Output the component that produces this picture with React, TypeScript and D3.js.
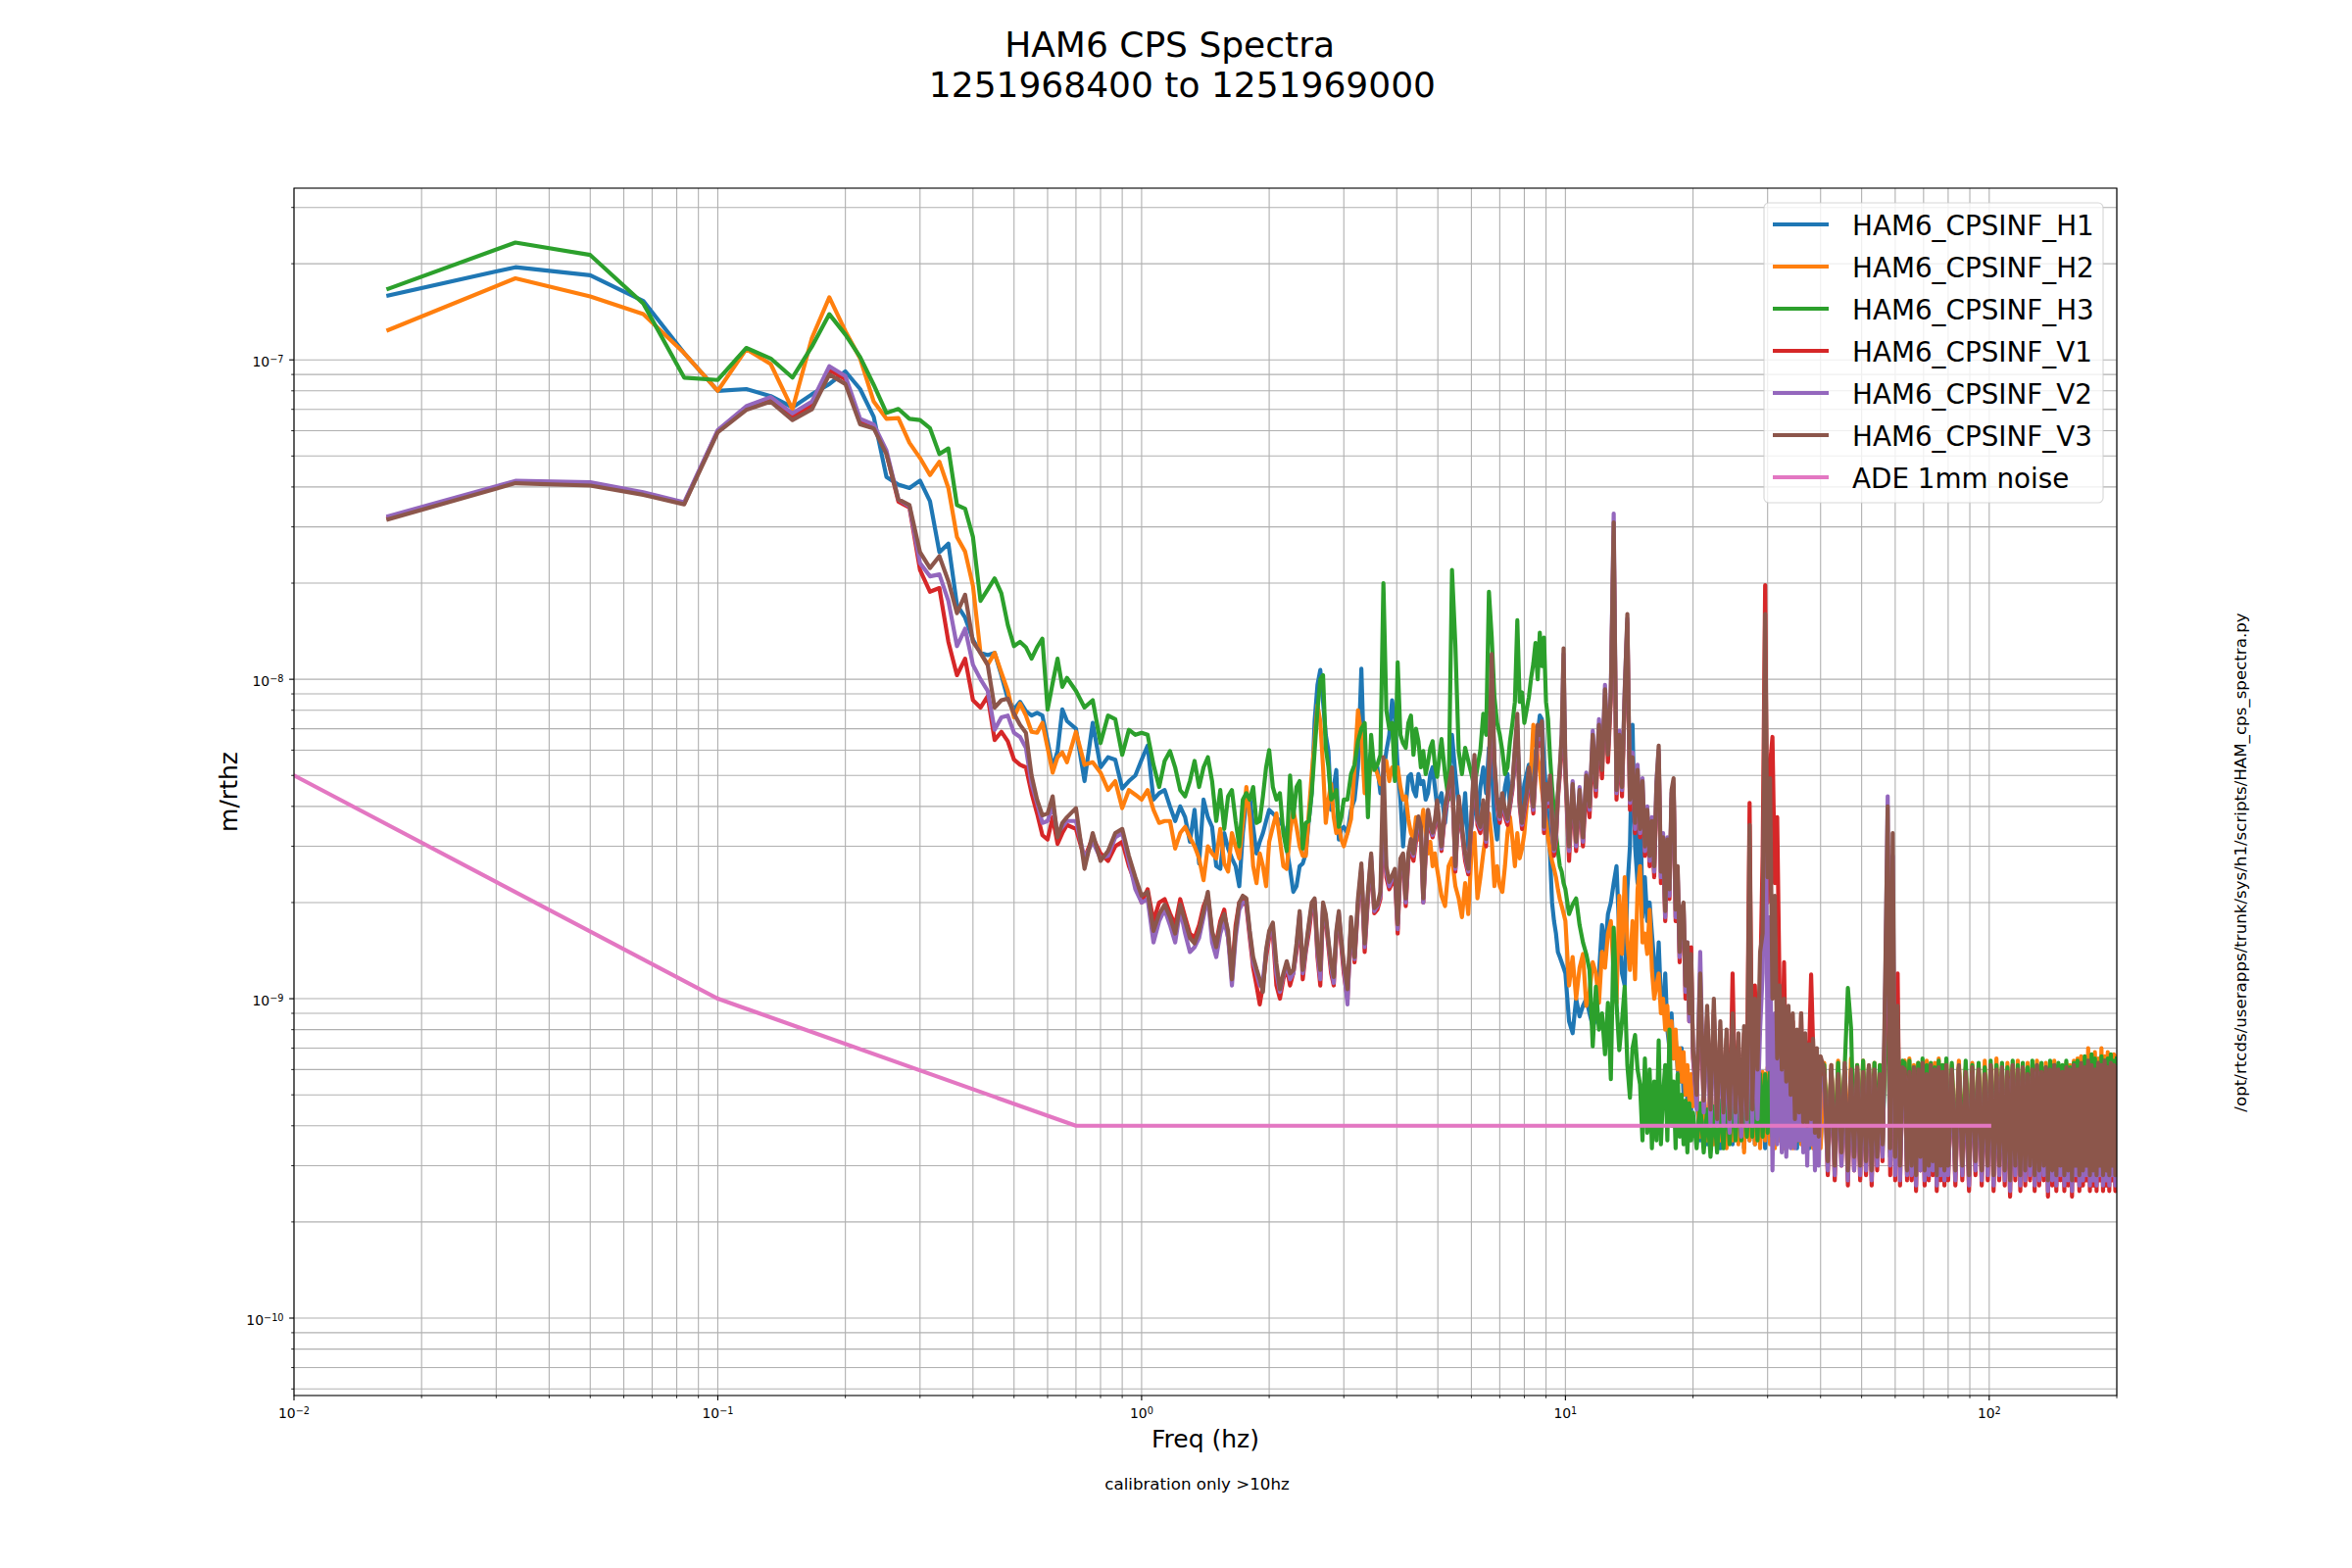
import React from 'react';
import * as d3 from 'd3';

const FONT = "'DejaVu Sans', sans-serif";

// frequency bins (Hz)
const freqLow = [
  0.0167, 0.0333, 0.05, 0.0667, 0.0833, 0.1, 0.1167, 0.1333, 0.15, 0.1667,
  0.1833, 0.2, 0.2167, 0.2333, 0.25, 0.2667, 0.2833, 0.3, 0.3167, 0.3333,
  0.35, 0.3667, 0.3833, 0.4, 0.4167, 0.4333, 0.45, 0.4667, 0.4833, 0.5,
  0.5167, 0.5333, 0.55, 0.5667, 0.5833, 0.6, 0.6167, 0.6333, 0.65, 0.6667,
];
const freqMid = [
  0.7, 0.7333, 0.7667, 0.8, 0.8333, 0.8667, 0.9, 0.9333, 0.9667, 1.0,
  1.0333, 1.0667, 1.1, 1.1333, 1.1667, 1.2, 1.2333, 1.2667, 1.3, 1.3333,
  1.3667, 1.4, 1.4333, 1.4667, 1.5, 1.5333, 1.5667, 1.6, 1.6333, 1.6667,
  1.7, 1.7333, 1.7667, 1.8, 1.8333, 1.8667, 1.9, 1.9333, 1.9667, 2.0,
];
const freqHigh = [
  2.04, 2.08, 2.12, 2.16, 2.2, 2.24, 2.28, 2.32, 2.36, 2.4,
  2.44, 2.48, 2.52, 2.56, 2.6, 2.64, 2.68, 2.72, 2.76, 2.8,
  2.84, 2.88, 2.92, 2.96, 3.0,
  3.06, 3.12, 3.18, 3.24, 3.3, 3.36, 3.42, 3.48, 3.54, 3.6,
  3.66, 3.72, 3.78, 3.84, 3.9, 3.96, 4.02, 4.08, 4.14, 4.2,
  4.26, 4.32, 4.38, 4.44, 4.5, 4.56, 4.62, 4.68, 4.74, 4.8,
  4.86, 4.92, 4.98,
  5.1, 5.2, 5.3, 5.4, 5.5, 5.6, 5.7, 5.8, 5.9, 6.0,
  6.1, 6.2, 6.3, 6.4, 6.5, 6.6, 6.7, 6.8, 6.9, 7.0,
  7.1, 7.2, 7.3, 7.4, 7.5, 7.6, 7.7, 7.8, 7.9, 8.0,
  8.1, 8.2, 8.3, 8.4, 8.5, 8.6, 8.7, 8.8, 8.9, 9.0,
  9.1, 9.2, 9.3, 9.4, 9.5, 9.6, 9.7, 9.8, 9.9, 10.0,
];
const freq10 = [
  10.2, 10.4, 10.6, 10.8, 11, 11.2, 11.4, 11.6, 11.8, 12,
  12.2, 12.4, 12.6, 12.8, 13, 13.2, 13.4, 13.6, 13.8, 14,
  14.2, 14.4, 14.6, 14.8, 15, 15.2, 15.4, 15.6, 15.8, 16,
  16.2, 16.4, 16.6, 16.8, 17, 17.2, 17.4, 17.6, 17.8, 18,
  18.2, 18.4, 18.6, 18.8, 19, 19.2, 19.4, 19.6, 19.8, 20,
];
const freq20 = [
  20.4, 20.8, 21.2, 21.6, 22, 22.4, 22.8, 23.2, 23.6, 24,
  24.4, 24.8, 25.2, 25.6, 26, 26.4, 26.8, 27.2, 27.6, 28,
  28.4, 28.8, 29.2, 29.6, 30, 30.4, 30.8, 31.2, 31.6, 32,
  32.4, 32.8, 33.2, 33.6, 34, 34.4, 34.8, 35.2, 35.6, 36,
  36.4, 36.8, 37.2, 37.6, 38, 38.4, 38.8, 39.2, 39.6, 40,
];
const freq40 = [
  40.8, 41.6, 42.4, 43.2, 44, 44.8, 45.6, 46.4, 47.2, 48,
  48.8, 49.6, 50.4, 51.2, 52, 52.8, 53.6, 54.4, 55.2, 56,
  56.8, 57.6, 58.4, 59.2, 60, 60.8, 61.6, 62.4, 63.2, 64,
  64.8, 65.6, 66.4, 67.2, 68, 68.8, 69.6, 70.4, 71.2, 72,
  72.8, 73.6, 74.4, 75.2, 76, 76.8, 77.6, 78.4, 79.2, 80,
];
const freq80 = [
  81.6, 83.2, 84.8, 86.4, 88, 89.6, 91.2, 92.8, 94.4, 96,
  97.6, 99.2, 100.8, 102.4, 104, 105.6, 107.2, 108.8, 110.4, 112,
  113.6, 115.2, 116.8, 118.4, 120, 121.6, 123.2, 124.8, 126.4, 128,
  129.6, 131.2, 132.8, 134.4, 136, 137.6, 139.2, 140.8, 142.4, 144,
  145.6, 147.2, 148.8, 150.4, 152, 153.6, 155.2, 156.8, 158.4, 160,
  161.6, 163.2, 164.8, 166.4, 168, 169.6, 171.2, 172.8, 174.4, 176,
  177.6, 179.2, 180.8, 182.4, 184, 185.6, 187.2, 188.8, 190.4, 192,
  193.6, 195.2, 196.8, 198.4, 200,
];
const freq = [...freqLow, ...freqMid, ...freqHigh, ...freq10, ...freq20, ...freq40, ...freq80];

// amplitude spectra, nm/rtHz
const cpsH1 = [
  159, 195, 184, 153, 105, 80, 81, 77, 71, 78,
  84, 92, 81, 66.3, 43, 40.7, 39.7, 41.9, 36.1, 25,
  26.6, 17.1, 15.6, 13.3, 12.1, 11.9, 12.1, 10.3, 8.7, 8.05,
  8.5, 7.95, 7.7, 7.85, 7.7, 6.4, 5.3, 5.95, 8.05, 7.4,
  7.0, 4.8, 7.3, 5.3, 5.7, 5.6, 4.55, 4.8, 5.0, 5.6,
  6.2, 4.2, 4.4, 4.5, 4.0, 3.6, 4.0, 3.7, 3.1, 3.9,
  2.65, 4.2, 3.7, 3.45, 2.6, 2.55, 3.3, 2.95, 2.75, 2.6,
  2.25, 3.3, 4.2, 4.3, 3.45, 2.85, 3.1, 3.3, 3.6, 3.9,
  3.8, 3.7, 3.6, 3.45, 2.95, 2.55, 2.16, 2.25, 2.6, 2.65,
  2.85, 3.6, 4.4, 7.4, 9.6, 10.7, 8.5, 6.7, 5.96, 3.9,
  4.6, 5.2, 3.15, 3.4, 3.45,
  3.3, 3.9, 4.2, 5.3, 10.8, 4.8, 5.3, 5.96, 5.4, 5.3,
  4.4, 5.05, 5.96, 6.7, 8.6, 7.5, 5.3, 4.2, 3.0, 4.0,
  4.95, 5.05, 4.5, 4.3, 5.05, 4.7, 4.8, 4.2, 4.4, 5.05,
  5.3, 4.6, 4.0,
  4.4, 3.55, 4.6, 6.7, 5.05, 4.0, 3.3, 4.4, 2.95, 3.45,
  4.2, 3.65, 4.6, 5.3, 4.4, 6.1, 5.3, 3.65, 3.15, 4.2,
  3.8, 4.6, 5.05, 4.0, 4.7, 5.3, 6.4, 4.6, 4.0, 4.7,
  5.05, 5.4, 4.8, 5.96, 5.3, 6.7, 7.7, 7.5, 5.5, 4.5,
  3.5, 2.8, 2.0, 1.75, 1.6, 1.4, 1.35, 1.3, 1.25, 1.2,
  0.85, 0.78, 1.0, 0.88, 0.95, 1.0, 0.9, 0.82, 0.86, 1.2,
  1.7, 1.4, 1.84, 2.0, 2.3, 2.6, 1.6, 1.2, 1.1, 2.2,
  3.0, 7.2, 3.0, 2.3, 4.7, 1.8, 2.4, 1.75, 2.0, 1.6,
  1.3, 1.1, 1.5, 1.0, 0.9, 1.2, 0.8, 0.7, 0.9, 0.65,
  0.75, 0.6, 0.55, 0.7, 0.5, 0.6, 0.48, 0.55, 0.45, 0.52,
  0.48, 0.36, 0.5, 0.35, 0.52, 0.36, 0.5, 0.34, 0.53, 0.36,
  0.52, 0.35, 0.55, 0.36, 0.54, 0.34, 0.56, 0.36, 0.55, 0.35,
  0.57, 0.36, 0.56, 0.34, 0.58, 0.36, 0.57, 0.35, 0.58, 0.36,
  0.59, 0.34, 0.58, 0.36, 0.59, 0.35, 0.6, 0.34, 0.58, 0.36,
  0.6, 0.35, 0.59, 0.34, 0.6, 0.36, 0.59, 0.34, 0.6, 0.35,
  0.58, 0.33, 0.6, 0.31, 0.57, 0.34, 0.61, 0.3, 0.59, 0.33,
  0.6, 0.31, 0.58, 0.32, 0.61, 0.3, 0.59, 0.33, 0.57, 0.34,
  0.7, 1.6, 0.32, 1.4, 0.31, 0.75, 0.3, 0.6, 0.61, 0.31,
  0.58, 0.31, 0.6, 0.3, 0.62, 0.33, 0.6, 0.3, 0.57, 0.31,
  0.61, 0.32, 0.59, 0.3, 0.6, 0.31, 0.58, 0.3, 0.61, 0.31,
  0.59, 0.31, 0.61, 0.32, 0.58, 0.3, 0.6, 0.32, 0.59, 0.3,
  0.57, 0.31, 0.61, 0.3, 0.59, 0.31, 0.6, 0.3, 0.58, 0.29,
  0.61, 0.31, 0.59, 0.3, 0.6, 0.3, 0.57, 0.31, 0.59, 0.29,
  0.61, 0.3, 0.58, 0.31, 0.6, 0.29, 0.59, 0.3, 0.61, 0.29,
  0.59, 0.31, 0.58, 0.29, 0.6, 0.3, 0.59, 0.28, 0.61, 0.31,
  0.59, 0.29, 0.62, 0.3, 0.6, 0.31, 0.63, 0.29, 0.61, 0.3,
  0.59, 0.29, 0.62, 0.31, 0.61, 0.29, 0.63, 0.3, 0.6, 0.29,
  0.62, 0.31, 0.61, 0.29, 0.6,
];
const cpsH2 = [
  124, 180, 158, 139, 105, 80, 108, 97, 70, 117,
  157, 123, 101, 74, 65.4, 65.7, 55, 49.3, 43.6, 48,
  39.7, 27.9, 25.1, 19.6, 12.1, 11.1, 12.1, 10.5, 9.2, 7.6,
  8.4, 7.7, 6.85, 6.8, 7.3, 6.1, 5.1, 5.7, 5.9, 5.5,
  6.85, 5.4, 5.5, 5.1, 4.5, 4.8, 3.95, 4.5, 4.35, 4.2,
  4.5, 3.9, 3.55, 3.6, 3.6, 2.95, 3.3, 3.45, 3.2, 3.0,
  2.75, 2.35, 3.0, 2.85, 2.75, 3.4, 2.65, 2.5, 3.3, 3.0,
  2.75, 3.55, 4.6, 3.7, 2.6, 2.3, 2.85, 2.6, 2.25, 3.1,
  3.45, 3.8, 3.15, 2.6, 2.55, 3.3, 3.9, 3.45, 3.0, 2.8,
  2.8, 3.8, 5.05, 6.4, 8.3, 7.4, 5.3, 3.55, 4.2, 4.7,
  3.7, 3.3, 3.45, 3.15, 3.0,
  3.3, 3.65, 5.3, 8.0, 6.7, 4.4, 4.8, 5.3, 5.4, 5.05,
  4.7, 5.05, 5.55, 4.8, 5.3, 5.05, 5.3, 4.6, 4.2, 4.3,
  3.65, 3.3, 3.15, 3.7, 3.15, 3.45, 3.9, 3.3, 2.85, 3.1,
  2.6, 2.85, 2.55,
  2.1, 1.95, 2.6, 2.75, 2.25, 2.06, 1.8, 2.3, 1.84, 2.85,
  3.3, 2.06, 2.4, 2.85, 3.3, 3.8, 3.15, 2.25, 2.6, 2.25,
  2.16, 2.6, 3.3, 3.7, 3.15, 2.6, 3.3, 2.75, 2.95, 3.3,
  4.0, 4.6, 5.3, 7.2, 6.5, 5.7, 5.2, 4.5, 4.0, 3.6,
  3.2, 2.9, 2.7, 2.55, 2.4, 2.2, 2.05, 1.95, 1.85, 1.75,
  1.1, 1.35, 1.0, 1.25, 1.38, 0.95, 1.05, 1.3, 1.2, 0.97,
  1.4, 1.25, 1.6, 1.75, 1.2, 0.97, 2.1, 1.38, 2.4, 1.5,
  1.23, 1.75, 1.15, 2.2, 2.6, 1.5, 1.6, 1.38, 1.9, 1.23,
  1.0, 1.1, 1.2, 0.9, 1.0, 0.8, 0.95, 0.7, 0.85, 0.65,
  0.8, 0.6, 0.7, 0.55, 0.68, 0.5, 0.62, 0.48, 0.58, 0.46,
  0.5, 0.37, 0.52, 0.36, 0.54, 0.35, 0.53, 0.36, 0.56, 0.34,
  0.55, 0.36, 0.58, 0.35, 0.57, 0.33, 0.6, 0.36, 0.58, 0.35,
  0.6, 0.34, 0.59, 0.36, 0.61, 0.35, 0.6, 0.34, 0.62, 0.36,
  0.61, 0.34, 0.6, 0.35, 0.62, 0.34, 0.61, 0.36, 0.62, 0.35,
  0.63, 0.34, 0.61, 0.35, 0.62, 0.34, 0.63, 0.35, 0.62, 0.34,
  0.63, 0.35, 0.62, 0.34, 0.64, 0.36, 0.61, 0.33, 0.65, 0.35,
  0.62, 0.34, 0.64, 0.33, 0.61, 0.35, 0.63, 0.34, 0.62, 0.36,
  0.8, 1.2, 0.34, 1.0, 0.33, 0.7, 0.33, 0.63, 0.64, 0.34,
  0.65, 0.33, 0.62, 0.34, 0.63, 0.35, 0.61, 0.33, 0.64, 0.34,
  0.62, 0.35, 0.63, 0.33, 0.65, 0.34, 0.62, 0.33, 0.64, 0.35,
  0.62, 0.33, 0.64, 0.34, 0.61, 0.33, 0.63, 0.35, 0.62, 0.32,
  0.64, 0.34, 0.62, 0.33, 0.65, 0.34, 0.61, 0.32, 0.63, 0.33,
  0.62, 0.34, 0.64, 0.32, 0.61, 0.33, 0.63, 0.34, 0.62, 0.32,
  0.64, 0.33, 0.61, 0.34, 0.63, 0.32, 0.62, 0.33, 0.64, 0.32,
  0.62, 0.34, 0.61, 0.32, 0.63, 0.33, 0.62, 0.31, 0.64, 0.33,
  0.65, 0.32, 0.66, 0.33, 0.64, 0.34, 0.7, 0.32, 0.66, 0.33,
  0.68, 0.32, 0.65, 0.34, 0.7, 0.33, 0.66, 0.32, 0.68, 0.33,
  0.65, 0.34, 0.67, 0.32, 0.66,
];
const cpsH3 = [
  167, 233, 213, 150, 88, 86.5, 109, 101, 88, 110,
  139, 120, 102, 83.5, 68.2, 70.2, 65.4, 64.8, 61.1, 50.7,
  52.8, 35.1, 34.2, 27.9, 17.6, 19.1, 20.7, 18.6, 14.8, 12.7,
  13.1, 12.6, 11.6, 12.6, 13.4, 8.04, 9.73, 11.6, 9.47, 10.1,
  9.2, 8.16, 8.6, 6.31, 7.7, 7.5, 5.8, 6.95, 6.7, 6.8,
  6.7, 5.4, 4.6, 5.55, 5.96, 5.3, 4.5, 4.3, 4.8, 5.55,
  4.6, 5.3, 5.7, 4.8, 3.6, 4.5, 3.4, 4.3, 4.5, 3.6,
  3.0, 4.2, 4.4, 4.2, 4.6, 3.55, 3.6, 4.3, 5.3, 6.0,
  4.6, 4.2, 4.4, 3.3, 2.9, 5.0, 3.7, 4.6, 4.8, 2.95,
  3.55, 3.6, 4.4, 5.96, 8.0, 10, 10.3, 6.1, 5.3, 4.2,
  4.3, 4.5, 3.45, 3.7, 4.2,
  4.2, 5.05, 5.4, 6.4, 7.0, 7.3, 3.7, 6.7, 5.2, 5.4,
  5.8, 20, 8.0, 7.0, 7.3, 4.8, 11.3, 6.7, 6.3, 6.1,
  7.3, 7.7, 5.8, 7.0, 6.4, 5.3, 5.96, 5.05, 5.5, 6.1,
  6.4, 5.4, 4.95,
  6.5, 5.05, 4.2, 22, 12.8, 5.96, 5.05, 6.1, 5.55, 5.05,
  4.6, 5.3, 6.0, 7.8, 6.7, 18.8, 13.6, 8.8, 7.3, 6.7,
  5.96, 5.05, 5.3, 6.4, 7.3, 8.5, 15.3, 8.5, 9.1, 7.3,
  8.0, 8.8, 10.1, 11.2, 13, 10, 14, 11, 13.5, 8.5,
  7.5, 5.7, 4.6, 3.9, 3.3, 2.9, 2.6, 2.5, 2.3, 2.2,
  1.84, 1.97, 2.06, 1.7, 1.5, 1.38, 1.23, 0.71, 1.09, 0.8,
  0.9, 0.67, 0.97, 0.56, 1.67, 0.97, 0.69, 0.85, 1.09, 0.62,
  0.49, 0.7, 0.77, 0.6, 0.54, 0.36, 0.65, 0.38, 0.6, 0.34,
  0.55, 0.36, 0.74, 0.35, 0.5, 0.62, 0.36, 0.8, 0.4, 0.55,
  0.34, 0.58, 0.37, 0.5, 0.35, 0.48, 0.33, 0.47, 0.36, 0.44,
  0.34, 0.47, 0.33, 0.45, 0.32, 0.46, 0.33, 0.48, 0.34, 0.5,
  0.35, 0.5, 0.36, 0.52, 0.36, 0.54, 0.37, 0.55, 0.37, 0.56,
  0.36, 0.58, 0.37, 0.58, 0.38, 0.6, 0.37, 0.6, 0.38, 0.6,
  0.37, 0.61, 0.37, 0.62, 0.38, 0.6, 0.37, 0.62, 0.36, 0.62,
  0.37, 0.6, 0.36, 0.62, 0.37, 0.61, 0.36, 0.62, 0.37, 0.63,
  0.62, 0.34, 0.6, 0.33, 0.63, 0.35, 0.61, 1.08, 0.81, 0.34,
  0.62, 0.33, 0.64, 0.34, 0.61, 0.32, 0.63, 0.35, 0.62, 0.33,
  0.75, 1.0, 0.33, 0.9, 0.32, 0.7, 0.33, 0.64, 0.63, 0.33,
  0.64, 0.32, 0.61, 0.34, 0.63, 0.33, 0.65, 0.32, 0.62, 0.34,
  0.63, 0.33, 0.61, 0.32, 0.64, 0.34, 0.62, 0.33, 0.65, 0.32,
  0.63, 0.32, 0.61, 0.33, 0.64, 0.32, 0.62, 0.34, 0.63, 0.31,
  0.61, 0.33, 0.64, 0.32, 0.62, 0.33, 0.63, 0.31, 0.61, 0.32,
  0.64, 0.33, 0.62, 0.31, 0.63, 0.32, 0.61, 0.33, 0.64, 0.31,
  0.62, 0.32, 0.63, 0.33, 0.61, 0.31, 0.64, 0.32, 0.62, 0.31,
  0.63, 0.33, 0.62, 0.31, 0.64, 0.32, 0.61, 0.3, 0.63, 0.32,
  0.64, 0.31, 0.62, 0.32, 0.66, 0.33, 0.64, 0.31, 0.67, 0.32,
  0.65, 0.31, 0.63, 0.33, 0.66, 0.32, 0.64, 0.31, 0.65, 0.32,
  0.67, 0.33, 0.64, 0.31, 0.65,
];
const cpsV1 = [
  32, 41.5, 41, 38, 35.5, 60, 71, 75.5, 66.5, 72,
  93, 87, 64, 62, 51, 36, 34.5, 22, 18.8, 19.3,
  13.1, 10.3, 11.6, 8.6, 8.15, 8.85, 6.45, 6.85, 6.4, 5.6,
  5.4, 5.3, 4.4, 3.8, 3.25, 3.15, 3.7, 3.05, 3.3, 3.5,
  3.4, 2.75, 3.2, 2.85, 2.7, 3.0, 3.1, 2.6, 2.3, 2.0,
  2.2, 1.75, 2.0, 2.05, 1.85, 1.7, 2.05, 1.8, 1.6, 1.55,
  1.7, 1.95, 2.1, 1.6, 1.5, 1.75, 1.9, 1.55, 1.2, 1.7,
  2.0, 2.05, 1.95, 1.55, 1.25, 1.1, 0.96, 1.1, 1.35, 1.55,
  1.6, 1.1, 1.0, 1.15, 1.25, 1.1, 1.2, 1.4, 1.8, 1.15,
  1.4, 1.6, 1.9, 2.0, 1.35, 1.1, 1.9, 1.75, 1.45, 1.2,
  1.1, 1.55, 1.8, 1.45, 1.2,
  1.0, 1.7, 1.3, 1.95, 2.5, 1.4, 2.05, 2.7, 1.85, 1.9,
  2.05, 3.5, 2.4, 2.2, 2.3, 2.4, 1.6, 2.6, 2.7, 1.95,
  2.7, 3.0, 2.7, 3.1, 3.5, 3.3, 2.0, 2.8, 3.7, 3.4,
  3.2, 3.45, 4.0,
  2.9, 3.8, 4.4, 5.0, 2.5, 4.1, 3.3, 2.7, 2.45, 3.55,
  5.5, 3.5, 3.3, 4.0, 3.0, 5.0, 8.0, 5.3, 4.0, 3.55,
  4.2, 3.7, 3.5, 4.0, 4.5, 5.8, 6.5, 4.0, 3.4, 3.8,
  4.2, 5.0, 4.4, 3.8, 5.0, 6.5, 6.2, 6.8, 3.3, 4.5,
  4.0, 4.7, 3.5, 2.8, 3.1, 4.2, 5.0, 6.0, 9.0, 5.0,
  2.7, 4.5, 2.9, 4.3, 3.0, 4.7, 3.7, 6.3, 4.3, 6.8,
  4.9, 8.8, 5.5, 8.7, 28, 4.2, 6.3, 4.3, 8.6, 15,
  3.9, 5.4, 3.3, 4.9, 3.2, 4.5, 2.8, 3.7, 2.6, 3.4,
  2.4, 4.4, 5.8, 2.3, 3.0, 1.75, 2.95, 2.05, 4.2, 4.6,
  1.75, 2.4, 1.3, 1.8, 1.9, 1.0, 1.45, 0.85, 1.45, 0.65,
  0.48, 1.0, 0.46, 0.88, 0.43, 0.92, 0.41, 0.8, 0.43, 0.75,
  0.4, 1.2, 0.42, 0.74, 0.39, 0.78, 0.5, 4.1, 0.44, 1.1,
  0.5, 1.05, 2.8, 19.7, 2.0, 5.4, 6.6, 2.3, 3.7, 1.1,
  0.5, 1.3, 0.48, 0.9, 0.43, 0.85, 0.4, 0.78, 0.43, 0.9,
  0.4, 0.74, 0.39, 0.7, 1.19, 0.72, 0.37, 0.66, 0.36, 0.62,
  0.58, 0.28, 0.6, 0.27, 0.56, 0.3, 0.59, 0.26, 0.57, 0.29,
  0.59, 0.27, 0.57, 0.28, 0.6, 0.26, 0.58, 0.29, 0.56, 0.31,
  0.9, 3.0, 0.28, 2.0, 0.27, 1.2, 0.26, 0.57, 0.58, 0.27,
  0.57, 0.27, 0.59, 0.25, 0.58, 0.29, 0.6, 0.26, 0.56, 0.27,
  0.6, 0.28, 0.58, 0.25, 0.59, 0.27, 0.57, 0.26, 0.6, 0.27,
  0.58, 0.26, 0.6, 0.27, 0.57, 0.25, 0.59, 0.28, 0.58, 0.26,
  0.56, 0.27, 0.6, 0.25, 0.58, 0.27, 0.59, 0.26, 0.57, 0.24,
  0.6, 0.27, 0.58, 0.25, 0.59, 0.26, 0.56, 0.27, 0.58, 0.25,
  0.6, 0.26, 0.57, 0.27, 0.59, 0.24, 0.58, 0.26, 0.6, 0.25,
  0.58, 0.27, 0.57, 0.25, 0.59, 0.26, 0.58, 0.24, 0.6, 0.27,
  0.58, 0.25, 0.61, 0.26, 0.59, 0.27, 0.62, 0.25, 0.6, 0.26,
  0.58, 0.25, 0.61, 0.27, 0.6, 0.25, 0.62, 0.26, 0.59, 0.25,
  0.61, 0.27, 0.6, 0.25, 0.59,
];
const cpsV2 = [
  32.4, 41.8, 41.4, 38.5, 35.8, 60.3, 71.6, 76.5, 68, 74,
  95.5, 89, 65.4, 62.8, 52, 36.6, 34.8, 23.1, 21, 21.3,
  17.6, 12.7, 14.4, 11.1, 10, 9.2, 6.95, 7.6, 7.7, 6.8,
  6.6, 6.1, 4.7, 4.1, 3.55, 3.6, 4.05, 3.3, 3.45, 3.6,
  3.6, 2.75, 3.1, 2.75, 2.8, 3.2, 3.3, 2.7, 2.2, 2.0,
  2.05, 1.5, 1.75, 1.9, 1.7, 1.5, 1.9, 1.6, 1.4, 1.45,
  1.55, 1.8, 2.1, 1.5, 1.35, 1.6, 1.75, 1.55, 1.1, 1.55,
  1.9, 2.0, 2.0, 1.6, 1.3, 1.2, 1.1, 1.15, 1.4, 1.6,
  1.65, 1.2, 1.05, 1.18, 1.28, 1.15, 1.2, 1.45, 1.85, 1.2,
  1.42, 1.68, 1.95, 2.02, 1.4, 1.15, 1.95, 1.8, 1.5, 1.25,
  1.12, 1.6, 1.85, 1.5, 1.25,
  0.96, 1.75, 1.33, 2.0, 2.55, 1.45, 2.1, 2.8, 1.88, 1.95,
  2.1, 4.0, 2.5, 2.25, 2.38, 2.5, 1.65, 2.7, 2.8, 2.0,
  2.8, 3.1, 2.8, 3.2, 3.6, 3.4, 2.0, 2.9, 3.8, 3.5,
  3.25, 3.55, 4.1,
  2.95, 3.9, 4.5, 5.2, 2.55, 4.2, 3.4, 2.8, 2.5, 3.65,
  5.6, 3.6, 3.4, 4.1, 3.1, 5.2, 10, 5.4, 4.1, 3.65,
  4.3, 3.8, 3.6, 4.1, 4.6, 6.0, 7.2, 4.1, 3.5, 3.9,
  4.3, 5.2, 4.5, 3.9, 5.2, 7.0, 6.5, 7.2, 3.4, 4.6,
  4.1, 4.9, 3.6, 2.9, 3.2, 4.3, 5.2, 6.5, 12, 5.2,
  2.9, 4.8, 3.0, 4.6, 3.1, 5.1, 3.9, 6.9, 4.5, 7.5,
  5.4, 9.6, 5.9, 9.4, 33, 4.4, 6.9, 4.5, 9.3, 15.5,
  4.1, 5.9, 3.4, 5.4, 3.3, 4.9, 2.9, 4.0, 2.7, 3.7,
  2.5, 4.8, 6.0, 2.4, 3.3, 1.8, 3.2, 2.1, 4.4, 4.7,
  1.8, 2.5, 1.35, 1.85, 1.95, 1.05, 1.5, 0.85, 1.3, 0.68,
  0.45, 1.4, 0.44, 0.85, 0.4, 0.9, 0.4, 0.75, 0.4, 0.7,
  0.38, 0.82, 0.4, 0.7, 0.37, 0.74, 0.4, 1.2, 0.4, 0.9,
  0.42, 0.8, 1.2, 10, 0.6, 1.8, 0.29, 0.9, 0.35, 0.75,
  0.33, 0.62, 0.32, 0.6, 0.34, 0.58, 0.34, 0.6, 0.36, 0.62,
  0.33, 0.6, 0.3, 0.58, 0.35, 0.6, 0.29, 0.56, 0.3, 0.55,
  0.57, 0.29, 0.59, 0.28, 0.55, 0.3, 0.58, 0.27, 0.56, 0.29,
  0.58, 0.28, 0.56, 0.29, 0.59, 0.27, 0.57, 0.3, 0.55, 0.32,
  1.0, 4.3, 0.3, 2.8, 0.28, 0.8, 0.27, 0.58, 0.57, 0.28,
  0.56, 0.28, 0.58, 0.26, 0.57, 0.29, 0.59, 0.27, 0.55, 0.28,
  0.59, 0.29, 0.57, 0.26, 0.58, 0.28, 0.56, 0.27, 0.59, 0.28,
  0.57, 0.27, 0.59, 0.28, 0.56, 0.26, 0.58, 0.29, 0.57, 0.27,
  0.55, 0.28, 0.59, 0.26, 0.57, 0.28, 0.58, 0.27, 0.56, 0.25,
  0.59, 0.28, 0.57, 0.26, 0.58, 0.27, 0.55, 0.28, 0.57, 0.26,
  0.59, 0.27, 0.56, 0.28, 0.58, 0.25, 0.57, 0.27, 0.59, 0.26,
  0.57, 0.28, 0.56, 0.26, 0.58, 0.27, 0.57, 0.25, 0.59, 0.28,
  0.57, 0.26, 0.6, 0.27, 0.58, 0.28, 0.61, 0.26, 0.59, 0.27,
  0.57, 0.26, 0.6, 0.28, 0.59, 0.26, 0.61, 0.27, 0.58, 0.26,
  0.6, 0.28, 0.59, 0.26, 0.58,
];
const cpsV3 = [
  31.7, 41.1, 40.4, 37.8, 35.3, 59.3, 69.7, 74, 64.8, 70,
  90, 84, 62.8, 61, 50.7, 36.6, 35.1, 25, 22.3, 24.3,
  20.3, 16.1, 18.4, 13.1, 12.1, 11.1, 8.15, 8.6, 8.7, 7.8,
  7.2, 6.8, 5.0, 4.2, 3.75, 3.8, 4.3, 3.2, 3.55, 3.7,
  3.95, 2.55, 3.3, 2.7, 2.9, 3.3, 3.4, 2.8, 2.4, 2.1,
  2.16, 1.63, 1.84, 1.97, 1.8, 1.6, 1.97, 1.75, 1.55, 1.49,
  1.63, 1.88, 2.16, 1.63, 1.45, 1.71, 1.84, 1.63, 1.15, 1.63,
  2.0, 2.1, 2.06, 1.63, 1.35, 1.24, 1.15, 1.05, 1.42, 1.63,
  1.73, 1.29, 1.07, 1.2, 1.31, 1.2, 1.23, 1.49, 1.88, 1.23,
  1.45, 1.71, 2.0, 2.06, 1.45, 1.23, 2.0, 1.84, 1.52, 1.29,
  1.17, 1.63, 1.88, 1.52, 1.29,
  1.07, 1.8, 1.35, 2.06, 2.65, 1.49, 2.16, 2.85, 1.92, 1.97,
  2.16, 5.7, 2.6, 2.32, 2.43, 2.55, 1.71, 2.75, 2.85, 2.06,
  2.85, 3.16, 2.85, 3.3, 3.72, 3.45, 2.06, 2.94, 3.9, 3.55,
  3.31, 3.6, 4.18,
  3.0, 4.0, 4.6, 5.3, 2.6, 4.3, 3.45, 2.85, 2.55, 3.72,
  5.8, 3.65, 3.45, 4.18, 3.16, 5.3, 12, 5.55, 4.18, 3.72,
  4.4, 3.9, 3.65, 4.18, 4.71, 6.1, 7.8, 4.18, 3.55, 4.0,
  4.4, 5.3, 4.6, 4.0, 5.3, 7.2, 6.7, 7.4, 3.45, 4.7,
  4.2, 5.0, 3.7, 2.94, 3.3, 4.4, 5.3, 6.7, 12.5, 5.3,
  3.0, 4.7, 3.1, 4.5, 3.2, 5.0, 4.0, 6.7, 4.6, 7.2,
  5.2, 9.3, 5.8, 9.1, 31, 4.5, 6.7, 4.6, 9.1, 16,
  4.2, 5.7, 3.55, 5.2, 3.4, 4.8, 3.0, 3.9, 2.8, 3.6,
  2.6, 4.7, 6.2, 2.5, 3.2, 1.88, 3.15, 2.2, 4.5, 4.9,
  1.9, 2.6, 1.4, 1.9, 2.0, 1.1, 1.5, 0.9, 1.38, 0.7,
  0.5, 1.2, 0.48, 0.95, 0.45, 1.0, 0.42, 0.85, 0.44, 0.8,
  0.42, 0.9, 0.44, 0.78, 0.4, 0.82, 0.42, 3.5, 0.45, 1.0,
  0.6, 1.4, 1.6, 16, 2.4, 4.9, 1.0, 2.1, 0.65, 1.1,
  0.6, 1.0, 0.55, 0.95, 0.5, 0.9, 0.42, 0.8, 0.44, 0.9,
  0.41, 0.78, 0.4, 0.72, 0.42, 0.75, 0.38, 0.7, 0.37, 0.66,
  0.6, 0.31, 0.62, 0.3, 0.58, 0.33, 0.63, 0.29, 0.6, 0.32,
  0.61, 0.3, 0.59, 0.31, 0.62, 0.29, 0.6, 0.32, 0.58, 0.35,
  1.1, 4.0, 0.34, 3.3, 0.32, 0.95, 0.3, 0.61, 0.6, 0.29,
  0.59, 0.3, 0.61, 0.28, 0.6, 0.32, 0.63, 0.29, 0.58, 0.3,
  0.62, 0.31, 0.6, 0.28, 0.61, 0.3, 0.59, 0.29, 0.62, 0.3,
  0.6, 0.29, 0.62, 0.3, 0.59, 0.28, 0.61, 0.31, 0.6, 0.29,
  0.58, 0.3, 0.62, 0.28, 0.6, 0.3, 0.61, 0.29, 0.59, 0.27,
  0.62, 0.3, 0.6, 0.28, 0.61, 0.29, 0.58, 0.3, 0.6, 0.28,
  0.62, 0.29, 0.59, 0.3, 0.61, 0.27, 0.6, 0.29, 0.62, 0.28,
  0.6, 0.3, 0.59, 0.28, 0.61, 0.29, 0.6, 0.27, 0.62, 0.3,
  0.6, 0.28, 0.63, 0.29, 0.61, 0.3, 0.64, 0.28, 0.62, 0.29,
  0.6, 0.28, 0.63, 0.3, 0.62, 0.28, 0.64, 0.29, 0.61, 0.28,
  0.63, 0.3, 0.62, 0.28, 0.61,
];

// ADE 1mm noise model
const adeFreq = [0.01, 0.1, 0.7, 100];
const adeNoise = [5, 1, 0.4, 0.4];

const seriesNames = [
  'HAM6_CPSINF_H1', 'HAM6_CPSINF_H2', 'HAM6_CPSINF_H3',
  'HAM6_CPSINF_V1', 'HAM6_CPSINF_V2', 'HAM6_CPSINF_V3', 'ADE 1mm noise',
];
const seriesColors = ['#1f77b4', '#ff7f0e', '#2ca02c', '#d62728', '#9467bd', '#8c564b', '#e377c2'];

const xMajor = [0.01, 0.1, 1, 10, 100];
const yMajor = [1e-10, 1e-9, 1e-8, 1e-7];

export default function App() {
  const width = 2400;
  const height = 1600;
  const left = 300, right = 2160, top = 192, bottom = 1424;

  const x = d3.scaleLog().domain([0.01, 200]).range([left, right]);
  const y = d3.scaleLog().domain([5.723e-11, 3.448e-7]).range([bottom, top]);

  const line = d3.line<[number, number]>()
    .x(d => x(d[0]))
    .y(d => y(d[1] * 1e-9));

  const spectra = [cpsH1, cpsH2, cpsH3, cpsV1, cpsV2, cpsV3];
  const paths = spectra.map(vals => {
    if (vals.length !== freq.length) console.warn('length mismatch', vals.length, freq.length);
    const pts: [number, number][] = [];
    vals.forEach((v, i) => { if (freq[i] !== undefined) pts.push([freq[i], v]); });
    return line(pts) as string;
  });
  const adePath = line(adeFreq.map((f, i) => [f, adeNoise[i]] as [number, number])) as string;

  // minor ticks
  const [yLo, yHi] = y.domain();
  const xMinor: number[] = [];
  xMajor.forEach(dec => {
    for (let k = 2; k <= 9; k++) {
      const v = dec * k;
      if (v <= 200 * 1.0001) xMinor.push(v);
    }
  });
  const yMinor: number[] = [];
  [1e-11, 1e-10, 1e-9, 1e-8, 1e-7].forEach(dec => {
    for (let k = 2; k <= 9; k++) {
      const v = dec * k;
      if (v >= yLo && v <= yHi) yMinor.push(v);
    }
  });

  const gridColor = '#b0b0b0';
  const expOf = (v: number) => Math.round(Math.log10(v));
  const expText = (e: number) => (e < 0 ? '\u2212' + Math.abs(e) : String(e));

  const legX = 1800, legY = 207, legW = 346, legH = 306;
  const rowY = (i: number) => 229 + i * 43;

  return (
    <svg width={width} height={height} viewBox={`0 0 ${width} ${height}`}
      style={{ position: 'absolute', left: 0, top: 0, background: '#fff' }}
      fontFamily={FONT}>
      <rect x={0} y={0} width={width} height={height} fill="#fff" />
      <defs>
        <clipPath id="plotClip">
          <rect x={left} y={top} width={right - left} height={bottom - top} />
        </clipPath>
      </defs>

      {/* grid */}
      <g stroke={gridColor} strokeWidth={1.1}>
        {[...xMajor, ...xMinor].map((f, i) => (
          <line key={'gx' + i} x1={x(f)} x2={x(f)} y1={top} y2={bottom} />
        ))}
        {[...yMajor, ...yMinor].map((v, i) => (
          <line key={'gy' + i} x1={left} x2={right} y1={y(v)} y2={y(v)} />
        ))}
      </g>

      {/* spectra */}
      <g clipPath="url(#plotClip)" fill="none" strokeWidth={4.17} strokeLinejoin="round" strokeLinecap="square">
        {paths.map((d, i) => (
          <path key={'s' + i} d={d} stroke={seriesColors[i]} />
        ))}
        <path d={adePath} stroke={seriesColors[6]} />
      </g>

      {/* frame */}
      <rect x={left} y={top} width={right - left} height={bottom - top} fill="none" stroke="#000" strokeWidth={1.1} />

      {/* ticks */}
      <g stroke="#000">
        {xMajor.map((f, i) => (
          <line key={'xt' + i} x1={x(f)} x2={x(f)} y1={bottom} y2={bottom + 4.9} strokeWidth={1.1} />
        ))}
        {xMinor.map((f, i) => (
          <line key={'xm' + i} x1={x(f)} x2={x(f)} y1={bottom} y2={bottom + 2.8} strokeWidth={0.85} />
        ))}
        {yMajor.map((v, i) => (
          <line key={'yt' + i} x1={left - 4.9} x2={left} y1={y(v)} y2={y(v)} strokeWidth={1.1} />
        ))}
        {yMinor.map((v, i) => (
          <line key={'ym' + i} x1={left - 2.8} x2={left} y1={y(v)} y2={y(v)} strokeWidth={0.85} />
        ))}
      </g>
      <g fontSize={13.9} fill="#000">
        {xMajor.map((f, i) => (
          <text key={'xl' + i} x={x(f)} y={bottom + 22.5} textAnchor="middle">
            10<tspan fontSize={9.7} dy={-4}>{expText(expOf(f))}</tspan>
          </text>
        ))}
        {yMajor.map((v, i) => (
          <text key={'yl' + i} x={left - 10.5} y={y(v) + 6.5} textAnchor="end">
            10<tspan fontSize={9.7} dy={-4}>{expText(expOf(v))}</tspan>
          </text>
        ))}
      </g>

      {/* axis labels */}
      <text x={1230} y={1476.7} fontSize={25} textAnchor="middle">Freq (hz)</text>
      <text transform={`translate(242,${(top + bottom) / 2}) rotate(-90)`} fontSize={25} textAnchor="middle">m/rthz</text>

      {/* titles and notes */}
      <text x={1193.6} y={58.3} fontSize={36} textAnchor="middle">HAM6 CPS Spectra</text>
      <text x={1206.4} y={99.3} fontSize={36} textAnchor="middle">1251968400 to 1251969000</text>
      <text x={1221.5} y={1520} fontSize={16.67} textAnchor="middle">calibration only &gt;10hz</text>
      <text transform="translate(2292,880) rotate(-90)" fontSize={16.67} textAnchor="middle">
        /opt/rtcds/userapps/trunk/sys/h1/scripts/HAM_cps_spectra.py
      </text>

      {/* legend */}
      <g>
        <rect x={legX} y={legY} width={legW} height={legH} rx={5} ry={5}
          fill="#fff" fillOpacity={0.8} stroke="#cccccc" strokeOpacity={0.8} strokeWidth={1.1} />
        {seriesNames.map((name, i) => (
          <g key={'lg' + i}>
            <line x1={1809} x2={1866} y1={rowY(i)} y2={rowY(i)} stroke={seriesColors[i]} strokeWidth={4.17} />
            <text x={1890} y={rowY(i) + 10.5} fontSize={27.8} fill="#000">{name}</text>
          </g>
        ))}
      </g>
    </svg>
  );
}
